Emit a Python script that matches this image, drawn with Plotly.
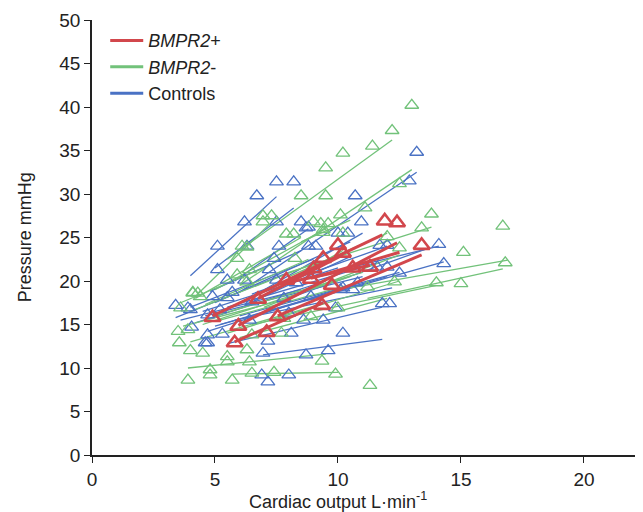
import plotly.graph_objects as go

# ---------------- data ----------------
red_x = [11.9, 12.4, 13.4, 10.0, 10.2, 9.4, 9.0, 10.6, 11.3, 7.9, 8.9, 9.75, 6.75, 9.35, 4.9, 5.95, 7.55, 7.1, 5.8]
red_y = [26.9, 26.7, 24.1, 24.1, 23.2, 22.6, 21.4, 21.5, 21.6, 20.1, 20.2, 19.5, 17.9, 17.2, 15.8, 14.8, 15.9, 14.1, 12.9]

blue_x = [13.2, 7.5, 8.2, 6.7, 10.7, 12.9, 6.2, 7.5, 8.5, 8.8, 10.95, 10.0, 10.4, 5.1, 6.3, 7.6, 11.7, 12.0,
          14.1, 8.7, 14.3, 11.8, 12.1, 12.5, 10.6, 10.1, 12.0, 11.6, 8.8, 9.1, 7.4, 5.1, 7.2, 5.5, 6.2, 3.4,
          4.9, 3.9, 5.5, 4.05, 4.7, 4.7, 4.6, 5.3, 6.95, 8.1, 10.2, 7.15, 8.7, 9.6, 6.9, 7.15, 8.0,
          7.5, 8.3, 10.2, 4.0, 4.7, 5.2, 6.4, 8.0, 8.6, 9.4, 9.9, 5.7, 6.5, 7.8, 8.9, 10.8]
blue_y = [34.8, 31.4, 31.4, 29.8, 29.8, 31.5, 26.8, 26.8, 26.8, 26.2, 26.8, 25.5, 25.5, 24.0, 24.0, 24.0, 24.1, 24.1,
          24.2, 26.1, 22.0, 17.4, 17.4, 20.9, 19.0, 19.0, 21.6, 21.6, 24.0, 24.0, 22.6, 21.3, 21.3, 20.1, 20.1, 17.2,
          18.2, 16.9, 18.1, 14.7, 13.8, 12.9, 12.9, 13.9, 11.7, 14.0, 14.0, 13.1, 11.5, 12.0, 9.2, 8.4, 9.2,
          20.1, 19.8, 19.2, 16.7, 16.1, 16.7, 15.5, 16.3, 15.5, 15.5, 16.9, 18.7, 17.6, 18.0, 18.2, 19.8]

green_x = [13.0, 12.2, 11.4, 10.2, 9.5, 8.5, 9.5, 11.1, 6.95, 7.3, 6.95, 9.0, 10.1, 7.9, 8.2, 9.4, 10.2, 6.1,
           12.0, 12.5, 13.8, 13.4, 16.7, 15.1, 16.8, 14.0, 15.0, 12.5, 11.2, 12.3, 9.4, 9.3, 9.6, 6.3, 5.9,
           8.25, 6.4, 4.1, 4.3, 3.6, 3.5, 3.55, 4.0, 4.5, 5.5, 5.5, 6.3, 6.4, 7.7, 9.35, 4.8, 4.8, 3.9, 5.7,
           6.5, 7.4, 9.9, 11.3, 4.1, 4.4, 5.9, 6.3, 7.8, 6.5, 8.9, 10.0, 3.9]
green_y = [40.2, 37.3, 35.5, 34.7, 33.0, 29.8, 29.8, 28.4, 27.5, 27.5, 26.8, 26.8, 27.6, 25.4, 25.4, 25.6, 25.5, 24.0,
           25.1, 31.2, 27.7, 26.1, 26.3, 23.3, 22.1, 19.8, 19.7, 23.8, 19.3, 19.9, 25.9, 26.6, 26.6, 23.9, 22.6,
           22.6, 21.3, 18.6, 18.6, 16.9, 14.2, 12.9, 12.0, 11.7, 11.3, 10.7, 12.1, 10.7, 14.0, 10.8, 9.8, 9.2, 8.6, 8.6,
           9.4, 9.5, 9.3, 8.0, 18.7, 18.2, 20.7, 19.9, 15.7, 13.8, 15.9, 16.9, 14.4]

# regression segments: start x, start y, end x, end y
red_x0 = [4.9, 5.95, 7.55, 6.75, 5.8, 8.9, 7.9]
red_y0 = [16.0, 14.9, 16.0, 18.0, 13.0, 20.3, 19.8]
red_x1 = [11.8, 12.4, 13.4, 10.2, 9.4, 12.5, 11.3]
red_y1 = [25.3, 24.4, 23.0, 23.0, 17.5, 23.3, 21.8]

blue_x0 = [4.0, 5.0, 6.0, 5.0, 7.5, 6.95, 5.5, 3.4, 4.5, 4.0, 5.0, 5.5, 4.7, 5.2, 6.5, 7.5, 6.0, 4.8, 5.8, 7.0,
           3.6, 4.2, 4.6, 5.8, 6.2]
blue_y0 = [20.6, 21.5, 18.7, 14.8, 17.5, 11.5, 12.8, 15.8, 16.5, 17.0, 17.5, 17.0, 14.2, 15.0, 18.5, 19.5, 16.0, 18.8, 20.0, 19.0,
           15.5, 15.2, 16.0, 15.5, 17.2]
blue_x1 = [7.5, 8.2, 13.2, 14.3, 13.7, 11.8, 11.8, 8.0, 10.0, 9.0, 10.5, 11.5, 10.5, 12.0, 12.0, 14.1, 12.5, 8.5, 8.8, 11.0,
           8.5, 9.5, 11.0, 12.2, 10.5]
blue_y1 = [29.7, 28.4, 32.5, 22.2, 23.8, 13.3, 17.0, 21.0, 21.5, 22.5, 24.5, 22.0, 19.5, 20.5, 24.0, 24.0, 21.0, 23.5, 26.0, 25.5,
           19.0, 20.0, 20.5, 19.2, 22.8]

green_x0 = [5.5, 6.0, 10.5, 11.2, 3.9, 5.7, 8.0, 4.0, 4.5, 3.6, 5.0, 4.2, 5.5, 6.0, 4.0, 7.0, 8.0, 5.0, 6.5, 4.3, 8.5,
            3.7, 4.6, 5.2, 6.8]
green_y0 = [22.5, 19.5, 19.2, 18.0, 10.0, 9.3, 21.0, 16.5, 15.0, 17.5, 19.0, 18.0, 14.0, 13.5, 13.0, 17.0, 20.5, 16.0, 15.0, 18.5, 24.5,
            14.8, 17.3, 15.5, 18.0]
green_x1 = [12.2, 13.0, 16.9, 16.7, 9.5, 10.0, 13.8, 9.0, 10.5, 7.0, 9.5, 8.5, 12.5, 12.0, 9.5, 12.5, 12.0, 11.0, 14.0, 7.2, 10.5,
            8.0, 8.8, 10.8, 10.2]
green_y1 = [36.2, 32.8, 22.4, 21.4, 11.6, 9.5, 26.2, 22.0, 20.5, 21.5, 26.0, 25.0, 20.0, 18.0, 17.5, 23.0, 25.5, 21.0, 19.5, 26.5, 27.0,
            18.0, 22.5, 19.8, 23.5]

group_names = ["<i>BMPR2</i>+", "<i>BMPR2</i>-", "Controls"]
x_ticks = [0, 5, 10, 15, 20]
y_ticks = [0, 5, 10, 15, 20, 25, 30, 35, 40, 45, 50]

RED = "#d2474c"
GREEN = "#72c27a"
BLUE = "#4a72c4"


def segs(x0, y0, x1, y1):
    xs, ys = [], []
    for a, b, c, d in zip(x0, y0, x1, y1):
        xs += [a, c, None]
        ys += [b, d, None]
    return xs, ys


fig = go.Figure()

bx, by = segs(blue_x0, blue_y0, blue_x1, blue_y1)
gx, gy = segs(green_x0, green_y0, green_x1, green_y1)
rx, ry = segs(red_x0, red_y0, red_x1, red_y1)

fig.add_trace(go.Scatter(x=bx, y=by, mode="lines", line=dict(color=BLUE, width=1.3), showlegend=False))
fig.add_trace(go.Scatter(x=gx, y=gy, mode="lines", line=dict(color=GREEN, width=1.3), showlegend=False))
fig.add_trace(go.Scatter(x=blue_x, y=blue_y, mode="markers", showlegend=False,
                         marker=dict(symbol="triangle-up-open", size=12, color=BLUE, line=dict(width=1.3))))
fig.add_trace(go.Scatter(x=green_x, y=green_y, mode="markers", showlegend=False,
                         marker=dict(symbol="triangle-up-open", size=12, color=GREEN, line=dict(width=1.3))))
fig.add_trace(go.Scatter(x=rx, y=ry, mode="lines", line=dict(color=RED, width=3), showlegend=False))
fig.add_trace(go.Scatter(x=red_x, y=red_y, mode="markers", showlegend=False,
                         marker=dict(symbol="triangle-up-open", size=14, color=RED, line=dict(width=2.6))))

# legend entries (uniform line thickness as in the original key)
for name, col in zip(group_names, [RED, GREEN, BLUE]):
    fig.add_trace(go.Scatter(x=[None], y=[None], mode="lines", name=name,
                             line=dict(color=col, width=3)))

# the page adds an 8 px body margin, so the figure is sized/offset to compensate
fig.update_layout(
    width=635, height=504,
    margin=dict(l=84, r=0, t=12, b=57),
    plot_bgcolor="white", paper_bgcolor="white",
    font=dict(family="Arial, Liberation Sans, sans-serif", size=19, color="#222"),
    legend=dict(x=0.024, y=0.995, xanchor="left", yanchor="top", bgcolor="rgba(0,0,0,0)",
                font=dict(size=18), itemwidth=33, tracegroupgap=0),
    xaxis=dict(range=[0, 22.4], tickvals=x_ticks, showline=True, linecolor="#222", linewidth=1.5,
               ticks="outside", ticklen=6, tickcolor="#222", showgrid=False, zeroline=False,
               automargin=False, tickfont=dict(size=19)),
    yaxis=dict(range=[0, 50], tickvals=y_ticks, showline=True, linecolor="#222", linewidth=1.5,
               ticks="outside", ticklen=6, tickcolor="#222", showgrid=False, zeroline=False,
               automargin=False, tickfont=dict(size=19)),
    annotations=[
        dict(text="Cardiac output L·min<sup>-1</sup>", x=10, xref="x", y=-0.105, yref="paper",
             xanchor="center", yanchor="middle", showarrow=False, font=dict(size=18)),
        dict(text="Pressure mmHg", x=-0.122, xref="paper", y=25, yref="y", textangle=-90,
             xanchor="center", yanchor="middle", showarrow=False, font=dict(size=18)),
    ],
)

fig.write_html("out.html")
